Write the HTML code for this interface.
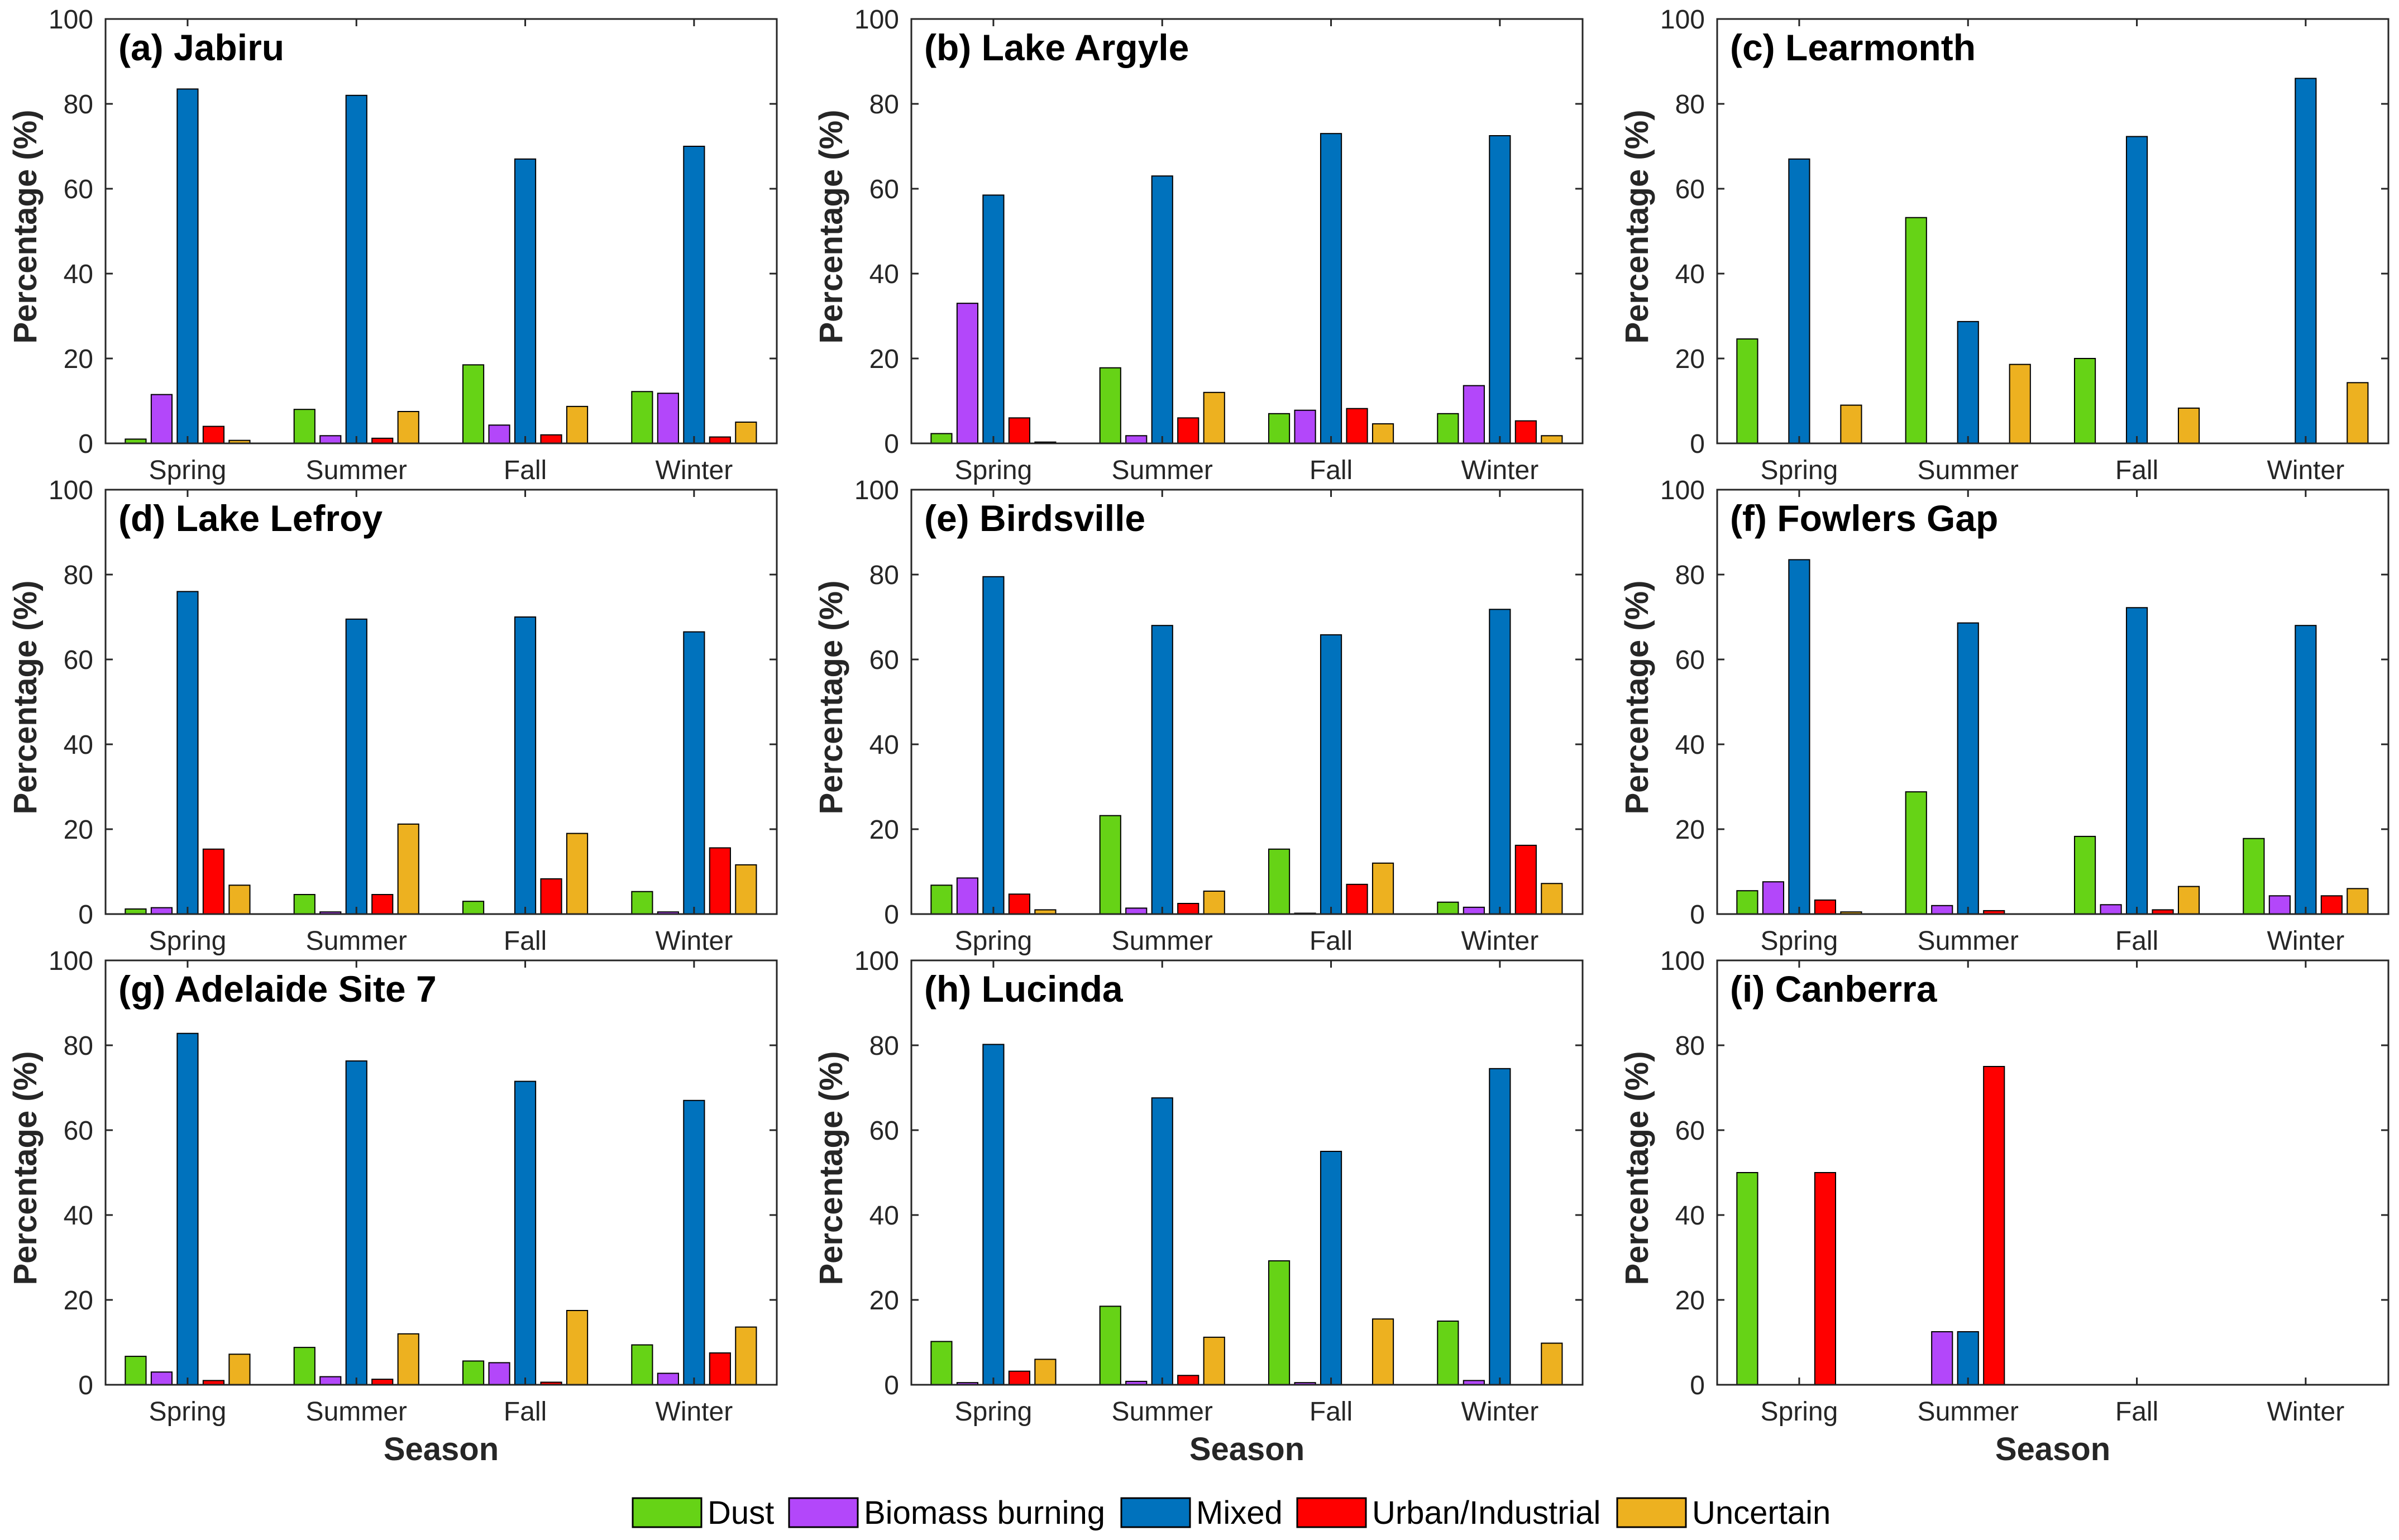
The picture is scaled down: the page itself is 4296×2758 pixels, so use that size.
<!DOCTYPE html>
<html><head><meta charset="utf-8"><style>
html,body{margin:0;padding:0;background:#fff;}
svg{display:block;font-family:"Liberation Sans",Arial,sans-serif;}
</style></head><body>
<svg id="fig" width="4296" height="2758" viewBox="0 0 4296 2758" xmlns="http://www.w3.org/2000/svg"></svg>
<script>
const seasons = ["Spring","Summer","Fall","Winter"];
const seriesNames = ["Dust","Biomass burning","Mixed","Urban/Industrial","Uncertain"];
const yTicks = [0,20,40,60,80,100];
const panelTitles = ["(a) Jabiru","(b) Lake Argyle","(c) Learmonth","(d) Lake Lefroy","(e) Birdsville","(f) Fowlers Gap","(g) Adelaide Site 7","(h) Lucinda","(i) Canberra"];
// values per panel: rows = seasons, columns = series
const jabiru     = [[1,11.5,83.5,4,0.7],[8,1.8,82,1.2,7.5],[18.5,4.3,67,2,8.7],[12.2,11.8,70,1.5,5]];
const lakeArgyle = [[2.3,33,58.5,6,0.3],[17.8,1.8,63,6,12],[7,7.8,73,8.2,4.6],[7,13.6,72.5,5.3,1.8]];
const learmonth  = [[24.6,0,67,0,9],[53.2,0,28.7,0,18.6],[20,0,72.3,0,8.3],[0,0,86,0,14.3]];
const lakeLefroy = [[1.2,1.5,76,15.3,6.8],[4.6,0.5,69.5,4.6,21.2],[3,0,70,8.3,19],[5.3,0.5,66.5,15.6,11.6]];
const birdsville = [[6.8,8.5,79.5,4.7,1],[23.2,1.4,68,2.5,5.4],[15.3,0.2,65.8,7,12],[2.8,1.6,71.8,16.2,7.2]];
const fowlersGap = [[5.5,7.6,83.5,3.3,0.5],[28.8,2,68.6,0.8,0],[18.3,2.2,72.2,1,6.5],[17.8,4.3,68,4.3,6]];
const adelaide   = [[6.7,3,82.8,1,7.2],[8.8,1.9,76.3,1.3,12],[5.6,5.2,71.5,0.6,17.5],[9.4,2.7,67,7.5,13.6]];
const lucinda    = [[10.2,0.5,80.2,3.2,6],[18.5,0.8,67.6,2.2,11.2],[29.2,0.5,55,0,15.5],[15,1,74.5,0,9.8]];
const canberra   = [[50,0,0,50,0],[0,12.5,12.5,75,0],[0,0,0,0,0],[0,0,0,0,0]];
const panelData = [jabiru,lakeArgyle,learmonth,lakeLefroy,birdsville,fowlersGap,adelaide,lucinda,canberra];

const colors = ["#66d316","#b347fa","#0072bd","#ff0000","#edb120"];
const NS = "http://www.w3.org/2000/svg";
const svg = document.getElementById("fig");
function mk(tag, attrs, parent){const e=document.createElementNS(NS,tag);for(const k in attrs)e.setAttribute(k,attrs[k]);(parent||svg).appendChild(e);return e;}

const colX = [189,1632,3075], rowY = [34,877,1720], W = 1202, H = 760;
const xMin = 0.514, xMax = 4.49;
const barPitch = 0.1538, barW = 0.123;

panelData.forEach((data,p)=>{
  const ax = colX[p%3], ay = rowY[Math.floor(p/3)];
  const xs = v => ax + (v - xMin)/(xMax - xMin)*W;
  const ys = v => ay + H - v/100*H;
  const g = mk("g",{});
  
  
  data.forEach((row,si)=>{
    row.forEach((v,k)=>{
      if(v<=0) return;
      const cx = si+1 + (k-2)*barPitch;
      const r = mk("rect",{x:xs(cx-barW/2),y:ys(v),width:xs(cx+barW/2)-xs(cx-barW/2),height:ys(0)-ys(v),fill:colors[k],stroke:"#000","stroke-width":2},g);
      
      
    });
  });
  const box = mk("rect",{x:ax,y:ay,width:W,height:H,fill:"none",stroke:"#262626","stroke-width":3},g);
  
  
  yTicks.forEach(t=>{
    const y = ys(t);
    mk("line",{x1:ax,x2:ax+13,y1:y,y2:y,stroke:"#262626","stroke-width":3},g);
    mk("line",{x1:ax+W-13,x2:ax+W,y1:y,y2:y,stroke:"#262626","stroke-width":3},g);
    const tl = mk("text",{x:ax-22,y:y+17,"text-anchor":"end","font-size":48,fill:"#262626"},g);
    tl.textContent = t;
    
    
  });
  seasons.forEach((s,i)=>{
    const x = xs(i+1);
    mk("line",{x1:x,x2:x,y1:ay+H,y2:ay+H-13,stroke:"#262626","stroke-width":3},g);
    mk("line",{x1:x,x2:x,y1:ay,y2:ay+13,stroke:"#262626","stroke-width":3},g);
    const tl = mk("text",{x:x,y:ay+H+64,"text-anchor":"middle","font-size":48,fill:"#262626"},g);
    tl.textContent = s;
    
    
  });
  const tt = mk("text",{x:ax+23,y:ay+74,"font-size":66,"font-weight":"bold",fill:"#000"},g);
  tt.textContent = panelTitles[p];
  
  
  const yl = mk("text",{x:0,y:0,"text-anchor":"middle","font-size":58,"font-weight":"bold",fill:"#262626",transform:`translate(${ax-124},${ay+H/2-8}) rotate(-90)`},g);
  yl.textContent = "Percentage (%)";
  
  
  if(Math.floor(p/3)===2){
    const xl = mk("text",{x:ax+W/2,y:ay+H+135,"text-anchor":"middle","font-size":58,"font-weight":"bold",fill:"#262626"},g);
    xl.textContent = "Season";
    
    
  }
});

const legX = [1133,1413,2008,2323,2896];
const lg = mk("g",{});


seriesNames.forEach((n,k)=>{
  const r = mk("rect",{x:legX[k],y:2683,width:123,height:52,fill:colors[k],stroke:"#000","stroke-width":3},lg);
  
  
  const t = mk("text",{x:legX[k]+134,y:2729,"font-size":58,fill:"#000"},lg);
  t.textContent = n;
  
  
});
</script>
</body></html>
